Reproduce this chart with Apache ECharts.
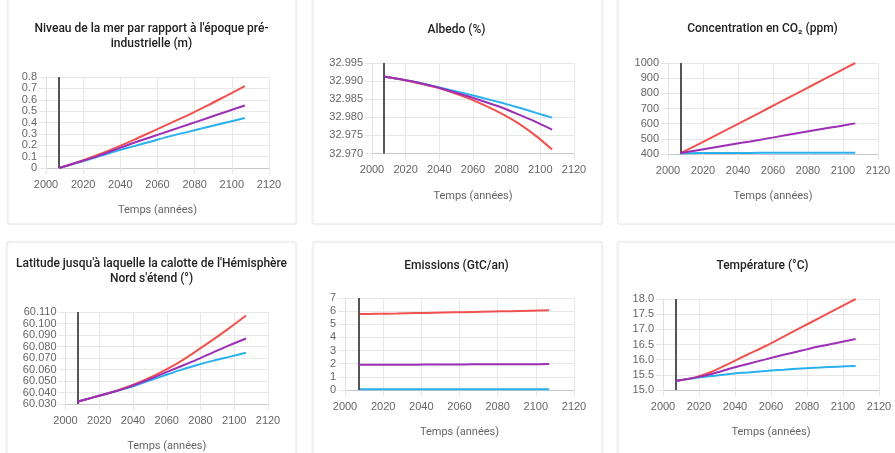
<!DOCTYPE html>
<html>
<head>
<meta charset="utf-8">
<script src="https://cdn.jsdelivr.net/npm/echarts@6/dist/echarts.min.js"></script>
<style>
html,body{margin:0;padding:0;background:#fff;}
#c{width:895px;height:453px;}
</style>
</head>
<body>
<div id="c"></div>
<script>
// ---- data ----
const years = [2007, 2017, 2027, 2037, 2047, 2057, 2067, 2077, 2087, 2097, 2107];
const startYear = 2007;

const seaRed    = [0, 0.05, 0.11, 0.175, 0.245, 0.32, 0.395, 0.47, 0.55, 0.635, 0.72];
const seaPurple = [0, 0.05, 0.10, 0.16, 0.22, 0.275, 0.33, 0.385, 0.44, 0.495, 0.55];
const seaBlue   = [0, 0.045, 0.095, 0.145, 0.19, 0.235, 0.28, 0.32, 0.36, 0.40, 0.44];

const albRed    = [32.9913, 32.9905, 32.9895, 32.9884, 32.9870, 32.9853, 32.9833, 32.9810, 32.9783, 32.9750, 32.9711];
const albPurple = [32.9913, 32.9905, 32.9896, 32.9885, 32.9872, 32.9858, 32.9843, 32.9827, 32.9808, 32.9788, 32.9766];
const albBlue   = [32.9913, 32.9905, 32.9896, 32.9886, 32.9875, 32.9864, 32.9852, 32.9840, 32.9827, 32.9813, 32.9799];

const co2Red    = [405, 462, 521, 580, 640, 700, 760, 820, 880, 940, 1000];
const co2Purple = [405, 425, 445, 464, 483, 503, 523, 543, 563, 582, 602];
const co2Blue   = [405, 406, 406, 407, 407, 408, 408, 408, 409, 409, 409];

const latRed    = [60.032, 60.036, 60.040, 60.045, 60.051, 60.058, 60.066, 60.0755, 60.0855, 60.096, 60.107];
const latPurple = [60.032, 60.036, 60.040, 60.0445, 60.050, 60.056, 60.062, 60.068, 60.0745, 60.081, 60.087];
const latBlue   = [60.032, 60.036, 60.040, 60.044, 60.049, 60.054, 60.059, 60.0635, 60.0675, 60.071, 60.0745];

const emiRed    = [5.78, 5.80, 5.82, 5.85, 5.88, 5.91, 5.94, 5.97, 6.00, 6.03, 6.06];
const emiPurple = [1.92, 1.92, 1.93, 1.93, 1.94, 1.94, 1.95, 1.95, 1.96, 1.96, 1.97];
const emiBlue   = [0.05, 0.05, 0.05, 0.05, 0.05, 0.05, 0.05, 0.05, 0.05, 0.05, 0.05];

const tempRed    = [15.30, 15.40, 15.60, 15.88, 16.17, 16.45, 16.76, 17.07, 17.38, 17.69, 18.00];
const tempPurple = [15.30, 15.40, 15.53, 15.70, 15.86, 16.01, 16.16, 16.30, 16.44, 16.56, 16.68];
const tempBlue   = [15.30, 15.39, 15.46, 15.53, 15.58, 15.63, 15.67, 15.71, 15.74, 15.77, 15.79];

const titles = [
  "Niveau de la mer par rapport à l'époque pré-\nindustrielle (m)",
  "Albedo (%)",
  "Concentration en CO₂ (ppm)",
  "Latitude jusqu'à laquelle la calotte de l'Hémisphère\nNord s'étend (°)",
  "Emissions (GtC/an)",
  "Température (°C)"
];
const xAxisName = "Temps (années)";
const xMin = 2000, xMax = 2120, xStep = 20;
const yMins  = [0, 32.970, 400, 60.030, 0, 15.0];
const yMaxs  = [0.8, 32.995, 1000, 60.110, 7, 18.0];
const ySteps = [0.1, 0.005, 100, 0.010, 1, 0.5];
const yDecimals = [-1, 3, 0, 3, 0, 1];

const panels = [
  [seaRed, seaPurple, seaBlue],
  [albRed, albPurple, albBlue],
  [co2Red, co2Purple, co2Blue],
  [latRed, latPurple, latBlue],
  [emiRed, emiPurple, emiBlue],
  [tempRed, tempPurple, tempBlue]
];

// ---- layout / style ----
const RED = '#ef5350', PURPLE = '#9c2fb5', BLUE = '#29b1ef';
const grids = [
  {left: 46,  top: 77,  width: 223, height: 91},
  {left: 372, top: 63,  width: 202, height: 90.5},
  {left: 668, top: 63,  width: 210, height: 91},
  {left: 65.5,top: 312, width: 202.5, height: 92},
  {left: 345, top: 298, width: 229, height: 92},
  {left: 663, top: 299, width: 216, height: 91}
];
const titlePos = [
  {x: 151.5, y: 21}, {x: 456.5, y: 22}, {x: 762.5, y: 21},
  {x: 151.5, y: 256}, {x: 456.5, y: 258}, {x: 762.5, y: 258}
];
const cards = [
  {x: 8, y: -10, w: 288, h: 234}, {x: 313, y: -10, w: 289, h: 234}, {x: 618, y: -10, w: 290, h: 234},
  {x: 7, y: 242, w: 289, h: 230}, {x: 313, y: 242, w: 289, h: 230}, {x: 618, y: 242, w: 290, h: 230}
];

const FONT = 'Arial, "Liberation Sans", sans-serif';
const option = {
  animation: false,
  backgroundColor: '#fff',
  title: titles.map((t, i) => ({
    text: t,
    left: titlePos[i].x,
    top: titlePos[i].y,
    textAlign: 'center',
    padding: 0,
    textStyle: {fontFamily: 'Roboto', fontSize: 12, fontWeight: 500, color: '#222', lineHeight: 15}
  })),
  graphic: cards.map(c => ({
    type: 'rect', z: -100, silent: true,
    shape: {x: c.x, y: c.y, width: c.w, height: c.h},
    style: {fill: '#fff', stroke: '#e9e9e9', lineWidth: 1, shadowBlur: 3, shadowColor: 'rgba(0,0,0,0.06)'}
  })),
  grid: grids.map(g => Object.assign({containLabel: false}, g)),
  xAxis: grids.map((g, i) => ({
    type: 'value', gridIndex: i, min: xMin, max: xMax, interval: xStep,
    name: xAxisName, nameLocation: 'middle', nameGap: 37,
    nameTextStyle: {color: '#666', fontSize: 11, fontFamily: 'Roboto'},
    axisLine: {show: true, onZero: false, lineStyle: {color: '#c8c8c8', width: 1}},
    axisTick: {show: true, length: 6, lineStyle: {color: '#e6e6e6'}},
    splitLine: {show: true, lineStyle: {color: '#e8e8e8', width: 1}},
    axisLabel: {color: '#666', fontSize: 11, fontFamily: FONT, margin: 11, formatter: v => String(v)}
  })),
  yAxis: grids.map((g, i) => ({
    type: 'value', gridIndex: i, min: yMins[i], max: yMaxs[i], interval: ySteps[i],
    axisLine: {show: true, lineStyle: {color: '#e0e0e0', width: 1}},
    axisTick: {show: true, length: 7, lineStyle: {color: '#e6e6e6'}},
    splitLine: {show: true, lineStyle: {color: '#e8e8e8', width: 1}},
    axisLabel: {
      color: '#666', fontSize: 11, fontFamily: FONT, margin: 9,
      formatter: v => yDecimals[i] < 0 ? String(+v.toFixed(2)) : v.toFixed(yDecimals[i])
    }
  })),
  series: []
};

const order = [[2, BLUE], [0, RED], [1, PURPLE]];
panels.forEach((p, i) => {
  order.forEach(([k, col], j) => {
    const s = {
      type: 'line', xAxisIndex: i, yAxisIndex: i,
      data: years.map((y, n) => [y, p[k][n]]),
      smooth: 0.25, symbol: 'none',
      lineStyle: {color: col, width: 2},
      itemStyle: {color: col},
      z: 3 + j
    };
    if (j === 0) {
      s.markLine = {
        silent: true, symbol: ['none', 'none'],
        label: {show: false},
        lineStyle: {color: '#555', width: 2, type: 'solid'},
        data: [{xAxis: startYear}]
      };
    }
    option.series.push(s);
  });
});

const chart = echarts.init(document.getElementById('c'), null, {renderer: 'canvas'});
chart.setOption(option);
</script>
</body>
</html>
